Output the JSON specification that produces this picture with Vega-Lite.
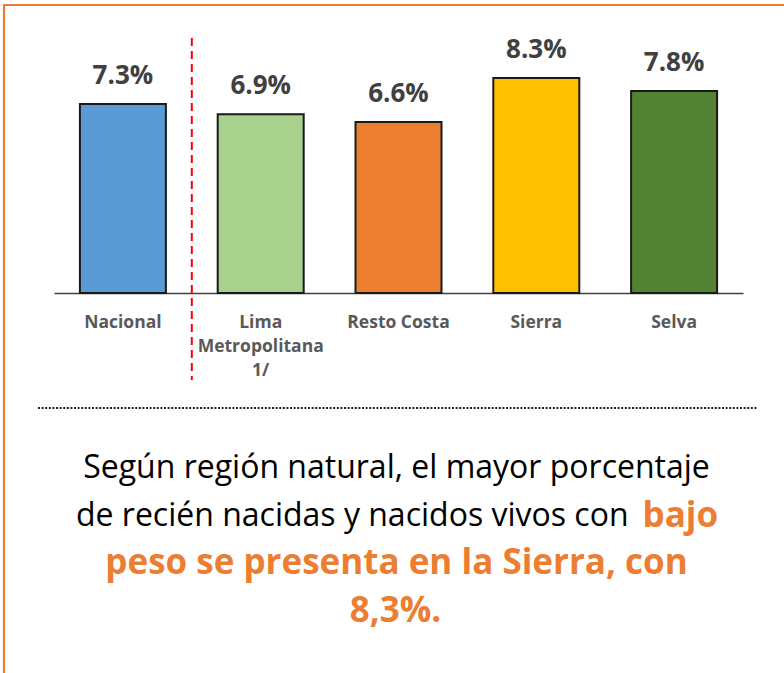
{
  "$schema": "https://vega.github.io/schema/vega-lite/v6.json",
  "width": 790,
  "height": 678,
  "autosize": {"type": "none"},
  "padding": {"left": 4, "top": 5, "right": -10, "bottom": -10},
  "background": "white",
  "config": {
    "view": {"stroke": "#ED7D31", "strokeWidth": 2.2, "fill": "white"},
    "font": "Open Sans"
  },
  "datasets": {
    "regiones": [
      {"region": "Nacional", "valor": 7.3, "etiqueta": "7.3%"},
      {"region": "Lima|Metropolitana|1/", "valor": 6.9, "etiqueta": "6.9%"},
      {"region": "Resto Costa", "valor": 6.6, "etiqueta": "6.6%"},
      {"region": "Sierra", "valor": 8.3, "etiqueta": "8.3%"},
      {"region": "Selva", "valor": 7.8, "etiqueta": "7.8%"}
    ],
    "uno": [{}]
  },
  "layer": [
    {
      "data": {"name": "regiones"},
      "mark": {"type": "bar", "width": {"band": 0.624}, "stroke": "#1a1a1a", "strokeWidth": 2},
      "encoding": {
        "x": {
          "field": "region",
          "type": "nominal",
          "sort": null,
          "scale": {
            "domain": ["Nacional", "Lima|Metropolitana|1/", "Resto Costa", "Sierra", "Selva"],
            "range": [50, 739],
            "paddingInner": 0,
            "paddingOuter": 0
          },
          "axis": {
            "title": null,
            "orient": "bottom",
            "offset": -390,
            "labelExpr": "split(datum.label, '|')",
            "labelAngle": 0,
            "labelFont": "Open Sans",
            "labelFontWeight": "bold",
            "labelFontSize": 17.5,
            "labelColor": "#595959",
            "labelLineHeight": 24,
            "labelPadding": 20,
            "labelOverlap": false,
            "labelBound": false,
            "labelFlush": false,
            "ticks": false,
            "domainColor": "#404040",
            "domainWidth": 1.5,
            "grid": false
          }
        },
        "y": {
          "field": "valor",
          "type": "quantitative",
          "scale": {"domain": [0, 10], "range": [288, 29], "nice": false, "zero": true},
          "axis": null
        },
        "color": {
          "field": "region",
          "type": "nominal",
          "scale": {
            "domain": ["Nacional", "Lima|Metropolitana|1/", "Resto Costa", "Sierra", "Selva"],
            "range": ["#5B9BD5", "#A9D18E", "#ED7D31", "#FFC000", "#548235"]
          },
          "legend": null
        }
      }
    },
    {
      "data": {"name": "regiones"},
      "mark": {"type": "text", "font": "Open Sans", "fontWeight": "bold", "fontSize": 26, "color": "#404040", "baseline": "alphabetic", "dy": -20},
      "encoding": {
        "x": {"field": "region", "type": "nominal", "sort": null},
        "y": {"field": "valor", "type": "quantitative"},
        "text": {"field": "etiqueta"}
      }
    },
    {
      "data": {"name": "uno"},
      "mark": {"type": "rule", "color": "#FF0000", "strokeWidth": 2, "strokeDash": [8, 5]},
      "encoding": {
        "x": {"datum": "Lima|Metropolitana|1/", "bandPosition": 0},
        "y": {"datum": 9.85},
        "y2": {"datum": -3.36}
      }
    },
    {
      "data": {"name": "uno"},
      "mark": {"type": "rule", "color": "#222222", "strokeWidth": 2, "strokeDash": [2, 1.6]},
      "encoding": {
        "x": {"datum": "Nacional", "bandPosition": -0.116},
        "x2": {"datum": "Selva", "bandPosition": 1.109},
        "y": {"datum": -4.44}
      }
    },
    {
      "data": {"values": [{"texto": "Según región natural, el mayor porcentaje"}]},
      "mark": {"type": "text", "font": "Open Sans", "fontSize": 32, "color": "#000000", "align": "center", "baseline": "middle", "dx": -2},
      "encoding": {
        "x": {"datum": "Resto Costa"},
        "y": {"datum": -6.76},
        "text": {"field": "texto"}
      }
    },
    {
      "data": {"values": [{"texto": "de recién nacidas y nacidos vivos con"}]},
      "mark": {"type": "text", "font": "Open Sans", "fontSize": 32, "color": "#000000", "align": "right", "baseline": "middle", "dx": 230},
      "encoding": {
        "x": {"datum": "Resto Costa"},
        "y": {"datum": -8.61},
        "text": {"field": "texto"}
      }
    },
    {
      "data": {"values": [{"texto": "bajo"}]},
      "mark": {"type": "text", "font": "Open Sans", "fontWeight": "bold", "fontSize": 35, "color": "#ED7D31", "align": "left", "baseline": "middle", "dx": 244},
      "encoding": {
        "x": {"datum": "Resto Costa"},
        "y": {"datum": -8.61},
        "text": {"field": "texto"}
      }
    },
    {
      "data": {"values": [{"texto": "peso se presenta en la Sierra, con"}]},
      "mark": {"type": "text", "font": "Open Sans", "fontWeight": "bold", "fontSize": 35, "color": "#ED7D31", "align": "center", "baseline": "middle", "dx": -2},
      "encoding": {
        "x": {"datum": "Resto Costa"},
        "y": {"datum": -10.42},
        "text": {"field": "texto"}
      }
    },
    {
      "data": {"values": [{"texto": "8,3%."}]},
      "mark": {"type": "text", "font": "Open Sans", "fontWeight": "bold", "fontSize": 35, "color": "#ED7D31", "align": "center", "baseline": "middle", "dx": -3},
      "encoding": {
        "x": {"datum": "Resto Costa"},
        "y": {"datum": -12.28},
        "text": {"field": "texto"}
      }
    }
  ]
}
